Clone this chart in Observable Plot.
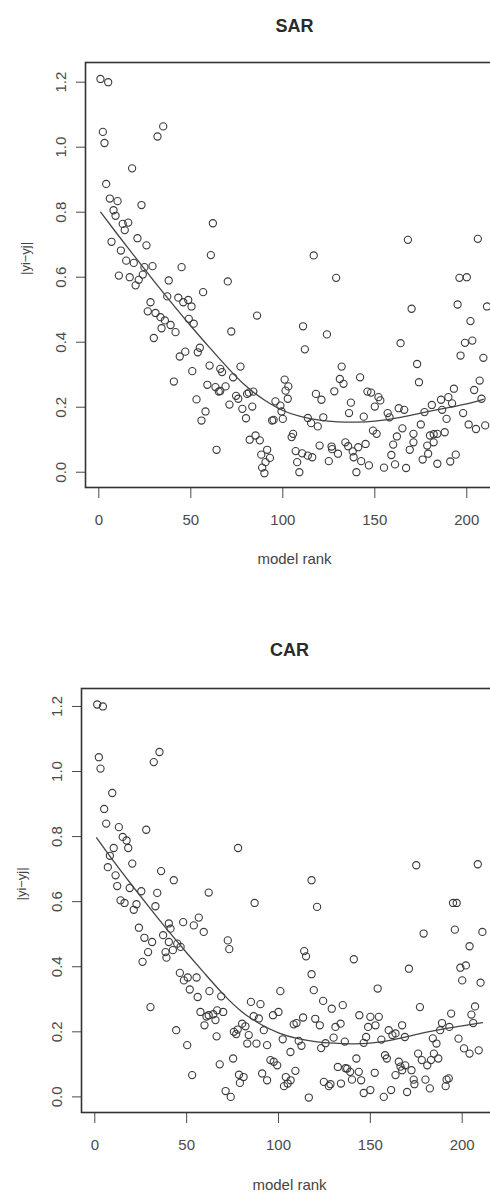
<!DOCTYPE html>
<html><head><meta charset="utf-8">
<script src="https://cdn.jsdelivr.net/npm/d3@7"></script>
<script src="https://cdn.jsdelivr.net/npm/@observablehq/plot@0.6"></script>
<style>html,body{margin:0;padding:0;background:#fff;overflow:hidden;width:490px;height:1199px}
#c{width:490px;overflow:hidden}
svg{display:block;max-width:none !important;width:492px !important;height:auto}</style></head><body><div id="c"></div>
<script>
const xTicks = [0, 50, 100, 150, 200];
const yTicks = [0, 0.2, 0.4, 0.6, 0.8, 1.0, 1.2];

const sarPoints = [[0.9,1.21],[5.1,1.20],[2.2,1.047],[3.1,1.013],[35.0,1.064],[31.9,1.033],[18.1,0.935],[4.0,0.887],[6.0,0.842],[10.2,0.834],[23.2,0.822],[8.0,0.806],[9.1,0.789],[13.0,0.764],[16.0,0.768],[14.1,0.745],[62.0,0.766],[6.9,0.709],[21.0,0.720],[25.9,0.698],[12.0,0.682],[60.9,0.668],[14.9,0.651],[19.0,0.644],[24.8,0.631],[29.2,0.634],[10.9,0.605],[16.8,0.600],[21.7,0.592],[20.0,0.575],[23.9,0.608],[38.0,0.590],[45.0,0.631],[70.1,0.587],[56.7,0.554],[116.8,0.667],[129.0,0.598],[168.0,0.715],[206.0,0.718],[196.0,0.598],[200.0,0.600],
[28.1,0.523],[26.6,0.495],[30.8,0.490],[33.5,0.477],[37.2,0.541],[43.2,0.537],[45.9,0.523],[48.6,0.530],[50.4,0.510],[35.9,0.467],[39.0,0.453],[41.7,0.431],[34.1,0.443],[29.9,0.413],[48.9,0.472],[51.6,0.457],[170.0,0.503],[195.0,0.516],[211.0,0.510],[72.0,0.433],[86.0,0.482],[111.0,0.449],[124.0,0.424],[112.0,0.378],[202.0,0.465],[164.0,0.397],[199.0,0.398],[203.0,0.405],[196.6,0.359],[209.0,0.352],[173.0,0.333],[174.0,0.277],[132.0,0.325],[142.0,0.292],[131.0,0.287],[133.0,0.272],[128.0,0.249],[207.0,0.282],[204.0,0.253],[193.0,0.257],[208.0,0.226],[186.0,0.223],[190.0,0.231],[192.0,0.212],[181.0,0.207],[177.0,0.185],[198.0,0.182],[201.0,0.147],[205.0,0.133],[210.0,0.144],[189.0,0.164],[188.0,0.123],[184.0,0.118],[180.0,0.113],[182.0,0.092],[178.5,0.082],[179.0,0.057],[176.0,0.039],[184.0,0.026],[191.0,0.033],[194.0,0.054],[175.0,0.147],[171.0,0.118],[171.0,0.092],[169.0,0.069],[167.0,0.013],[165.0,0.135],[162.0,0.110],[160.0,0.085],[159.0,0.053],[161.0,0.024],[155.0,0.014],[163.0,0.197],[166.0,0.192],[157.0,0.182],[158.0,0.169],[152.0,0.231],[153.0,0.221],[146.0,0.248],[148.0,0.245],[150.0,0.202],[137.0,0.214],[136.0,0.182],[144.0,0.171],[149.0,0.128],[151.0,0.118],[134.0,0.092],[135.5,0.080],[138.0,0.064],[141.0,0.077],[145.0,0.087],[138.5,0.046],[142.6,0.034],[146.8,0.021],[140.0,0.000],[125.0,0.034],[130.0,0.057],[126.5,0.079],[120.0,0.082],[122.0,0.169],[119.0,0.141],[113.6,0.167],[115.4,0.151],[118.0,0.241],[121.0,0.223],[105.6,0.118],[104.8,0.108],[107.0,0.065],[107.8,0.031],[109.0,0.000],[110.5,0.058],[113.6,0.051],[116.0,0.046],[101.0,0.285],[103.0,0.264],[101.5,0.251],[102.7,0.226],[96.0,0.218],[98.7,0.205],[99.3,0.187],[100.0,0.164],[94.2,0.159],[95.0,0.161],[84.0,0.248],[77.0,0.325],[73.0,0.292],[83.4,0.202],[80.6,0.241],[75.8,0.226],[74.6,0.235],[78.0,0.195],[80.0,0.166],[71.0,0.208],[66.0,0.318],[67.0,0.308],[60.2,0.328],[59.0,0.269],[63.4,0.262],[65.2,0.248],[68.9,0.264],[54.9,0.383],[53.8,0.369],[44.0,0.356],[47.0,0.371],[50.8,0.311],[40.8,0.279],[53.1,0.224],[58.0,0.187],[55.8,0.159],[64.0,0.069],[82.0,0.100],[85.2,0.113],[87.5,0.098],[88.3,0.054],[91.5,0.069],[93.0,0.044],[90.6,0.031],[88.8,0.014],[90.0,-0.003],[186.6,0.192],[126.8,0.071],[182.0,0.117],[81.5,0.245],[66.0,0.250]];

const sarSmooth = [[1,0.80],[10,0.733],[20,0.66],[30,0.588],[40,0.518],[50,0.45],[60,0.385],[70,0.322],[80,0.265],[90,0.222],[100,0.19],[110,0.171],[120,0.16],[130,0.155],[140,0.154],[150,0.157],[160,0.165],[170,0.176],[180,0.188],[190,0.199],[200,0.21],[209,0.224]];

const carPoints = [[1.3,1.206],[4.4,1.200],[2.2,1.044],[3.1,1.009],[32.1,1.029],[35.2,1.060],[9.5,0.934],[5.1,0.885],[6.2,0.840],[13.1,0.829],[28.0,0.821],[15.2,0.799],[17.3,0.788],[18.2,0.765],[10.3,0.765],[8.2,0.741],[78.0,0.765],[20.4,0.717],[7.1,0.706],[11.3,0.681],[36.1,0.694],[12.2,0.648],[19.0,0.642],[43.0,0.666],[118.0,0.666],[175.0,0.712],[208.5,0.715],[25.3,0.632],[34.0,0.627],[62.0,0.628],[14.0,0.604],[16.2,0.596],[21.2,0.575],[22.7,0.592],[33.0,0.586],[87.0,0.596],[121.0,0.584],[195.0,0.596],[197.0,0.596],[196.0,0.514],[211.0,0.507],[179.0,0.502],[204.0,0.463],[199.0,0.397],[202.0,0.404],[200.0,0.358],[210.0,0.351],[171.0,0.394],[141.0,0.423],[154.0,0.333],[177.0,0.276],[207.0,0.278],[205.0,0.253],[194.0,0.256],[189.0,0.227],[193.0,0.215],[206.0,0.227],[198.0,0.179],[201.0,0.149],[204.0,0.133],[209.0,0.143],[188.0,0.205],[186.0,0.164],[184.6,0.133],[187.0,0.118],[183.0,0.113],[181.0,0.097],[178.0,0.113],[176.0,0.133],[180.0,0.053],[182.4,0.026],[191.5,0.053],[191.0,0.033],[172.4,0.082],[173.6,0.053],[174.0,0.039],[170.0,0.015],[168.8,0.184],[167.3,0.220],[163.7,0.195],[160.0,0.205],[156.0,0.176],[158.0,0.128],[159.0,0.118],[165.5,0.108],[167.3,0.082],[163.7,0.067],[169.0,0.097],[161.3,0.021],[157.3,0.000],[150.0,0.246],[154.6,0.246],[152.8,0.220],[148.8,0.215],[147.7,0.184],[146.4,0.166],[144.0,0.251],[152.4,0.074],[150.0,0.021],[146.4,0.012],[142.4,0.118],[137.4,0.087],[139.0,0.077],[140.0,0.053],[143.7,0.077],[145.0,0.051],[132.3,0.092],[134.0,0.041],[135.0,0.282],[129.0,0.271],[133.8,0.225],[131.0,0.215],[130.0,0.182],[124.3,0.295],[119.2,0.328],[120.0,0.240],[122.5,0.220],[123.2,0.150],[124.7,0.046],[127.4,0.033],[128.3,0.039],[116.5,-0.002],[114.0,0.448],[115.0,0.432],[118.0,0.377],[113.4,0.244],[108.3,0.223],[109.8,0.227],[111.0,0.172],[112.5,0.157],[106.5,0.138],[102.3,0.177],[109.2,0.080],[104.0,0.061],[105.0,0.041],[106.6,0.051],[103.0,0.033],[101.0,0.325],[97.0,0.251],[100.0,0.261],[93.8,0.159],[95.6,0.113],[97.4,0.108],[99.3,0.097],[92.0,0.205],[91.1,0.072],[93.8,0.051],[85.0,0.292],[90.2,0.285],[86.5,0.248],[89.3,0.241],[88.0,0.164],[83.8,0.190],[83.0,0.164],[80.2,0.225],[82.0,0.217],[75.7,0.200],[77.0,0.193],[77.8,0.207],[75.3,0.118],[79.0,0.043],[81.0,0.061],[71.2,0.018],[74.0,0.000],[68.0,0.100],[72.4,0.481],[73.2,0.454],[62.4,0.325],[68.8,0.309],[57.5,0.261],[59.7,0.220],[62.0,0.251],[64.5,0.254],[66.6,0.266],[65.7,0.236],[69.9,0.261],[66.3,0.186],[56.6,0.551],[59.3,0.507],[53.9,0.527],[55.4,0.367],[56.0,0.307],[51.7,0.330],[50.6,0.367],[48.5,0.358],[46.3,0.381],[48.1,0.537],[44.3,0.205],[50.3,0.159],[53.0,0.067],[30.3,0.276],[44.9,0.471],[46.7,0.461],[42.5,0.451],[40.3,0.476],[38.5,0.445],[37.2,0.497],[40.3,0.533],[41.2,0.517],[39.0,0.428],[24.0,0.520],[27.0,0.489],[31.2,0.476],[29.0,0.445],[26.0,0.415],[78.5,0.068],[125.6,0.165],[136.1,0.170],[136.5,0.088],[166.4,0.093],[192.7,0.057],[184.0,0.180],[162.0,0.190],[60.8,0.247]];

const carSmooth = [[1,0.796],[10,0.726],[20,0.652],[30,0.58],[40,0.51],[50,0.443],[60,0.378],[70,0.315],[80,0.262],[90,0.224],[100,0.197],[110,0.18],[120,0.17],[130,0.165],[140,0.163],[150,0.165],[160,0.173],[170,0.185],[180,0.198],[190,0.209],[200,0.218],[211,0.228]];

function panel(o) {
  const data = o.points.map(([rank, diff]) => ({rank, diff}));
  const curve = o.smooth.map(([rank, diff]) => ({rank, diff}));
  return Plot.plot({
    width: 492, height: o.height,
    marginTop: o.marginTop, marginBottom: o.marginBottom, marginLeft: o.marginLeft, marginRight: 0,
    style: {fontFamily: "'Liberation Sans', Arial, sans-serif", fontSize: "15px", color: "#4a4a4a", background: "#fff", overflow: "visible"},
    x: {domain: o.xDomain, ticks: xTicks, tickSize: 11, tickPadding: 16, label: null},
    y: {domain: o.yDomain, ticks: yTicks, tickRotate: -90, tickSize: 9, tickPadding: 11, tickFormat: d => d.toFixed(1), label: null},
    marks: [
      Plot.frame({stroke: "#333", strokeWidth: 1.6}),
      Plot.dot(data, {x: "rank", y: "diff", r: 3.6, stroke: "#3a3a3a", strokeWidth: 1.1, fill: "none"}),
      Plot.line(curve, {x: "rank", y: "diff", stroke: "#444", strokeWidth: 1.3, curve: "natural"}),
      Plot.text([o.title], {frameAnchor: "top", dx: o.titleDx, dy: o.titleDy, fontSize: 18, fontWeight: "bold", fill: "#2a2a2a"}),
      Plot.text(["model rank"], {frameAnchor: "bottom", dx: o.titleDx, dy: o.xLabelDy, fontSize: 15, fill: "#444"}),
      Plot.text(["|yi\u2212yj|"], {frameAnchor: "left", dx: -60, rotate: -90, fontSize: 13, fill: "#444"})
    ]
  });
}

const c = document.getElementById("c");
c.appendChild(panel({title: "SAR", points: sarPoints, smooth: sarSmooth, height: 600, marginTop: 62, marginBottom: 113, marginLeft: 85,
  xDomain: [-7.23, 213.97], yDomain: [-0.047, 1.2606], titleDx: 5.5, titleDy: -43, xLabelDy: 76}));
c.appendChild(panel({title: "CAR", points: carPoints, smooth: carSmooth, height: 599, marginTop: 88, marginBottom: 87, marginLeft: 81,
  xDomain: [-7.24, 216.5], yDomain: [-0.048, 1.2552], titleDx: 2.5, titleDy: -45, xLabelDy: 77}));
</script></body></html>
